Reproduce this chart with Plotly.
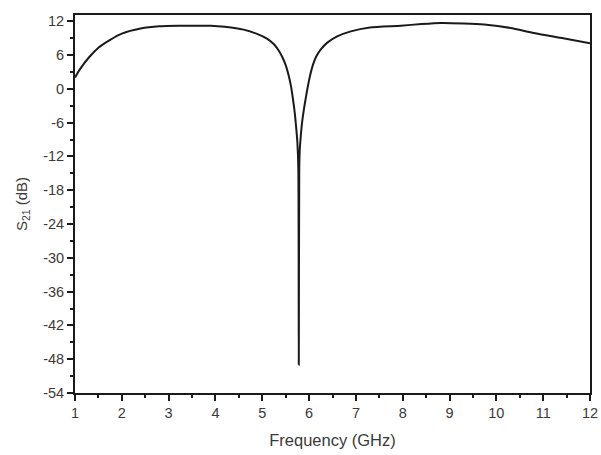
import plotly.graph_objects as go

freq_ghz = [1.0, 1.1, 1.3, 1.5, 1.75, 2.0, 2.4, 2.8, 3.2, 3.6, 3.9, 4.2, 4.6, 4.9, 5.1,
            5.25, 5.35, 5.43, 5.5, 5.56, 5.61, 5.65, 5.69, 5.72, 5.75, 5.77, 5.78, 5.79,
            5.8, 5.82, 5.85, 5.89, 5.93, 5.97, 6.02, 6.08, 6.15, 6.25, 6.39, 6.6, 6.89,
            7.3, 7.96, 8.4, 8.82, 9.3, 9.74, 10.3, 10.8, 11.4, 12.0]
s21_db = [2.0, 3.4, 5.6, 7.3, 8.7, 9.8, 10.7, 11.1, 11.2, 11.2, 11.2, 11.0, 10.5, 9.7, 8.9,
          7.9, 6.8, 5.6, 4.2, 2.5, 0.6, -1.5, -4.0, -6.5, -9.6, -14.0, -49.0, -14.0,
          -11.0, -8.6, -6.0, -3.6, -1.6, 0.3, 2.3, 4.2, 5.7, 7.0, 8.2, 9.3, 10.2,
          10.9, 11.2, 11.5, 11.7, 11.6, 11.4, 10.8, 9.9, 9.0, 8.1]

x_ticks = list(range(1, 13))
y_ticks = list(range(-54, 13, 6))

fig = go.Figure(go.Scatter(x=freq_ghz, y=s21_db, mode="lines", line_shape="spline",
                           line=dict(color="#1a1a1a", width=2, smoothing=0.6), showlegend=False))

font = dict(family="Liberation Sans, Arial, sans-serif", size=14.5, color="#3a3a3a")
axis_common = dict(showline=True, linecolor="#1a1a1a", linewidth=2, mirror=True,
                   showgrid=False, zeroline=False, ticks="outside", ticklen=6,
                   tickwidth=2, tickcolor="#1a1a1a", tickfont=font, automargin=False)

fig.update_xaxes(range=[1, 12], tickvals=x_ticks, ticktext=[str(v) for v in x_ticks],
                 minor=dict(ticks="outside", ticklen=3, tickwidth=2, tickcolor="#1a1a1a", dtick=0.5),
                 title=dict(text="Frequency (GHz)", font=dict(family=font["family"], size=16.5, color="#3a3a3a"), standoff=14),
                 **axis_common)
fig.update_yaxes(range=[-54, 13.1], tickvals=y_ticks, ticktext=[str(v) for v in y_ticks],
                 minor=dict(ticks="outside", ticklen=3, tickwidth=2, tickcolor="#1a1a1a", dtick=3, tick0=0),
                 title=dict(text="S<sub>21</sub> (dB)", font=dict(family=font["family"], size=15, color="#3a3a3a"), standoff=12),
                 **axis_common)

fig.update_layout(width=601, height=455, margin=dict(l=75, r=11, t=15, b=62),
                  plot_bgcolor="white", paper_bgcolor="white")

fig.write_html("out.html")
